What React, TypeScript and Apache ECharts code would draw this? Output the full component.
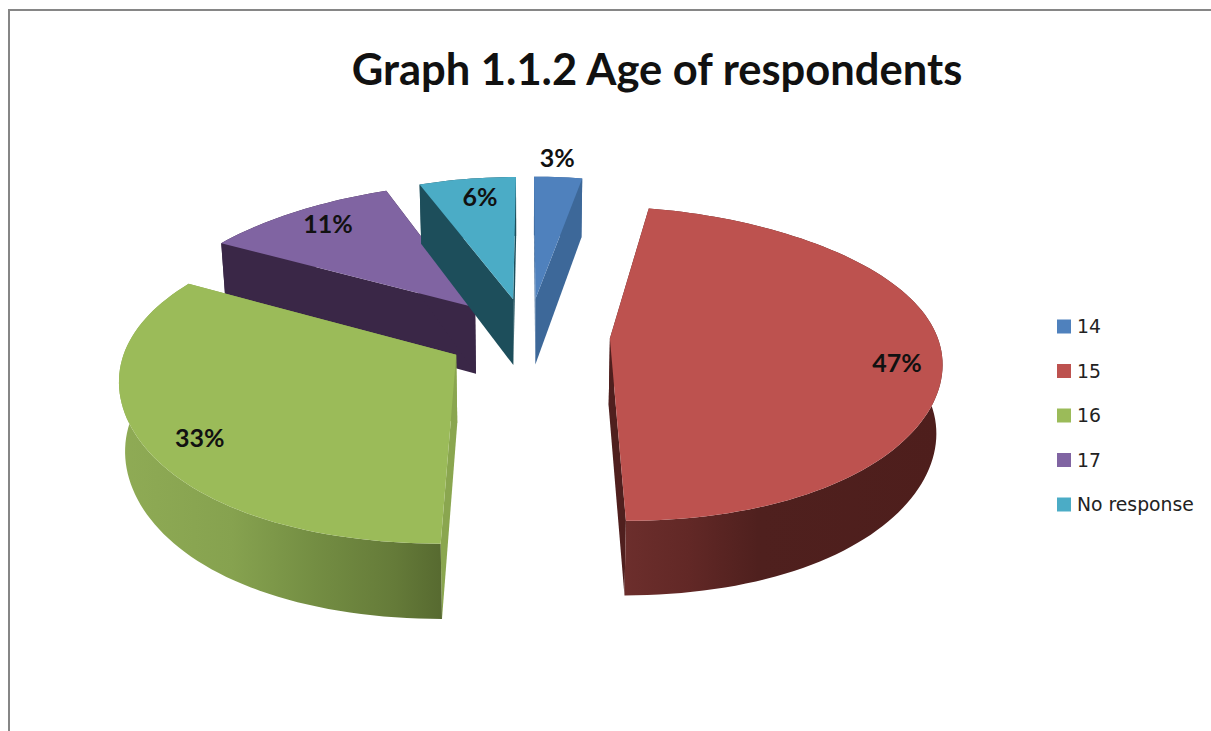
import React, { useEffect, useRef } from "react";
import * as echarts from "echarts";

// Age groups and their share of respondents, in percent
const ageGroups = ["14", "15", "16", "17", "No response"];
const shares = [3, 47, 33, 11, 6];

const titleText = "Graph 1.1.2 Age of respondents";

const topColors = ["#4f81bd", "#bd524f", "#9bbb59", "#8064a2", "#4bacc6"];
const sideColors = ["#3d6899", "#4f1f1e", "#8aa64f", "#3a2747", "#1d4e5b"];

// Outer wall shading, left to right
const wallStops: [number, string][][] = [
  [[0, "#3d6899"], [1, "#3d6899"]],
  [[0, "#6c2e2c"], [0.2, "#622826"], [0.42, "#4f201e"], [1, "#4e1e1c"]],
  [[0, "#8fab55"], [0.35, "#86a24f"], [0.6, "#748e43"], [0.85, "#657b39"], [1, "#576a30"]],
  [[0, "#3a2747"], [1, "#3a2747"]],
  [[0, "#1d4e5b"], [1, "#1d4e5b"]],
];

// Paint order: slices at the back first
const depthOrder = [1, 5, 4, 2, 3];

// Where each percentage sits along its slice's middle radius
const labelPlacement = [
  { reach: 1.23, dx: -4, dy: 3 },
  { reach: 0.87, dx: -1, dy: 11 },
  { reach: 0.83, dx: 1, dy: 11 },
  { reach: 0.74, dx: -10, dy: -11 },
  { reach: 0.66, dx: 0, dy: -20 },
];

// Perspective camera for the tilted pie
const RADIUS_X = 327;
const RADIUS_DEPTH = 330;
const EXPLODE = 82;
const VANISH_X = 528;
const CENTER_Y = 335;
const CAM_DEPTH = 2078;
const CAM_SCALE = 1.99e6;

const shrink = (d: number) => 1 / (1 + 4.1e-4 * d + 1.59e-7 * d * d + 1.194e-9 * d * d * d);

// Projects a point on the pie's top face; depth grows away from the viewer
const projectTop = (wx: number, depth: number): [number, number] => [
  VANISH_X + wx * shrink(depth),
  CENTER_Y + CAM_SCALE * (1 / (CAM_DEPTH + depth) - 1 / CAM_DEPTH),
];

// Same point on the bottom face
const projectBottom = (wx: number, depth: number): [number, number] => {
  const [x, y] = projectTop(wx, depth);
  return [VANISH_X + (x - VANISH_X) * 0.985, y + 67.5 - 0.021 * depth];
};

const total = shares.reduce((a, b) => a + b, 0);

function renderSlice(index: number) {
  return (_params: any, api: any) => {
    const value = api.value(0);
    const startShare = shares.slice(0, index).reduce((a, b) => a + b, 0);
    const start = (startShare / total) * Math.PI * 2;
    const end = start + (value / total) * Math.PI * 2;
    const mid = (start + end) / 2;
    const ox = Math.sin(mid) * EXPLODE;
    const oy = Math.cos(mid) * EXPLODE;

    const rim = (a: number, k = 1): [number, number] => [
      ox + Math.sin(a) * RADIUS_X * k,
      oy + Math.cos(a) * RADIUS_DEPTH * k,
    ];
    const steps = Math.max(6, Math.ceil((end - start) / 0.03));
    const arc: [number, number][] = [];
    for (let i = 0; i <= steps; i++) arc.push(rim(start + ((end - start) * i) / steps));

    const topArc = arc.map(([x, d]) => projectTop(x, d));
    const bottomArc = arc.map(([x, d]) => projectBottom(x, d));
    const apexTop = projectTop(ox, oy);
    const apexBottom = projectBottom(ox, oy);

    const side = sideColors[index];
    const polygon = (points: [number, number][], fill: any) => ({
      type: "polygon",
      shape: { points },
      style: { fill, stroke: "none" },
    });

    const first = arc[0];
    const last = arc[arc.length - 1];
    const place = labelPlacement[index];
    const [lw, ld] = rim(mid, place.reach);
    const [lx, ly] = projectTop(lw, ld);

    return {
      type: "group",
      children: [
        polygon([apexTop, projectTop(first[0], first[1]), projectBottom(first[0], first[1]), apexBottom], side),
        polygon([apexTop, projectTop(last[0], last[1]), projectBottom(last[0], last[1]), apexBottom], side),
        polygon(
          [...topArc, ...bottomArc.slice().reverse()],
          new echarts.graphic.LinearGradient(
            0,
            0,
            1,
            0,
            wallStops[index].map(([offset, color]) => ({ offset, color }))
          )
        ),
        polygon([apexTop, ...topArc], topColors[index]),
        {
          type: "text",
          style: {
            x: lx + place.dx,
            y: ly + place.dy,
            text: `${value}%`,
            fontFamily: "Lato",
            fontWeight: 700,
            fontSize: 25,
            fill: "#111111",
            align: "center",
            verticalAlign: "middle",
          },
        },
      ],
    };
  };
}

export default function App() {
  const ref = useRef<HTMLDivElement>(null);

  useEffect(() => {
    document.body.style.margin = "0";
    document.body.style.background = "#ffffff";
    const chart = echarts.init(ref.current!, undefined, { renderer: "svg" });
    chart.setOption({
      animation: false,
      backgroundColor: "#ffffff",
      title: {
        text: titleText,
        left: 652,
        top: 41,
        textAlign: "center",
        textStyle: { fontFamily: "Lato", fontWeight: 700, fontSize: 43.5, color: "#111111" },
      },
      legend: {
        orient: "vertical",
        left: 1052,
        top: 312,
        itemWidth: 14,
        itemHeight: 14,
        itemGap: 25.5,
        icon: "rect",
        data: ageGroups,
        selectedMode: false,
        textStyle: { fontFamily: "DejaVu Sans", fontSize: 18.8, color: "#222222", padding: [0, 0, 0, 1] },
      },
      graphic: [
        {
          type: "polyline",
          shape: { points: [[9, 731], [9, 10], [1211, 10]] },
          style: { stroke: "#868686", lineWidth: 2, fill: "none" },
          silent: true,
        },
      ],
      series: ageGroups.map((name, i) => ({
        type: "custom",
        name,
        coordinateSystem: "none",
        z: depthOrder[i],
        itemStyle: { color: topColors[i] },
        data: [[shares[i]]],
        renderItem: renderSlice(i),
      })),
    });
    return () => chart.dispose();
  }, []);

  return <div ref={ref} style={{ width: 1211, height: 731 }} />;
}
